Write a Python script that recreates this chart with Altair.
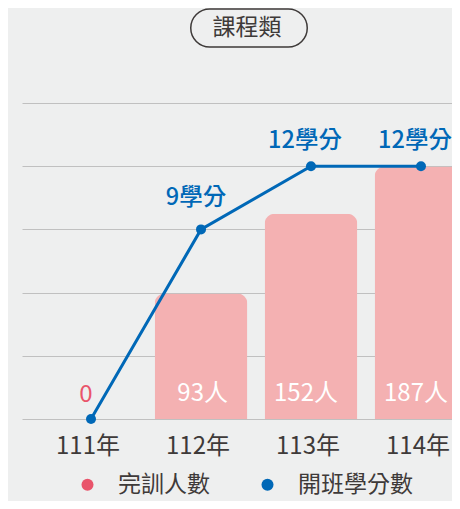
import altair as alt
import pandas as pd

years = ["111年", "112年", "113年", "114年"]
trainees = [0, 93, 152, 187]
trainee_labels = ["0", "93人", "152人", "187人"]
credits = [0, 9, 12, 12]
credit_labels = ["", "9學分", "12學分", "12學分"]
series = ["完訓人數", "開班學分數"]
title_text = ["課程類"]

df = pd.DataFrame({
    "year": years,
    "trainees": trainees,
    "tlabel": trainee_labels,
    "credits": credits,
    "clabel": credit_labels,
})
legend_df = pd.DataFrame({"series": series})
title_df = pd.DataFrame({"t": title_text})

FONT = "Noto Sans CJK TC"
BLUE = "#0068b7"
PINK = "#e9546b"
BAR = "#f4b1b2"
TEXT = "#3e3a39"
GRID = "#c0c0c0"
BG = "#eeefef"

x = alt.X(
    "year:N", sort=years,
    scale=alt.Scale(range=[0, 468], paddingInner=0.157, paddingOuter=0.206),
    axis=alt.Axis(title=None, domain=False, ticks=False, grid=False, labelAngle=0,
                  labelFont=FONT, labelFontSize=24, labelColor=TEXT,
                  labelBaseline="middle", labelPadding=27, labelOffset=-3),
)
bar_scale = alt.Scale(domain=[0, 234], nice=False)
y_bar = alt.Y("trainees:Q", scale=bar_scale, axis=None)
y_line = alt.Y(
    "credits:Q", scale=alt.Scale(domain=[0, 15], nice=False),
    axis=alt.Axis(values=[0, 3, 6, 9, 12, 15], grid=True, gridColor=GRID, gridWidth=1,
                  labels=False, ticks=False, domain=False, title=None),
)

base = alt.Chart(df)

bars = base.mark_bar(color=BAR, cornerRadiusTopLeft=10, cornerRadiusTopRight=10).encode(x=x, y=y_bar)
bar_text = base.transform_filter(alt.datum.trainees > 0).transform_calculate(zero="0").mark_text(
    font=FONT, fontSize=24, color="white", align="right", baseline="middle", dx=27, dy=-25
).encode(x=x, y=alt.Y("zero:Q", scale=bar_scale, axis=None), text="tlabel:N")
zero_text = base.transform_filter(alt.datum.trainees == 0).mark_text(
    font=FONT, fontSize=24, color=PINK, align="center", baseline="middle", dx=-5, dy=-24
).encode(x=x, y=y_bar, text="tlabel:N")
bar_layer = alt.layer(bars, bar_text, zero_text)

line = base.mark_line(color=BLUE, strokeWidth=3).encode(x=x, y=y_line)
pts = base.mark_point(filled=True, size=100, color=BLUE, opacity=1).encode(x=x, y=y_line)
lab9 = base.transform_filter(alt.datum.credits == 9).mark_text(
    font=FONT, fontSize=23.5, fontWeight=500, color=BLUE, align="center", baseline="middle", dx=-5, dy=-31
).encode(x=x, y=y_line, text="clabel:N")
lab12 = base.transform_filter(alt.datum.credits == 12).mark_text(
    font=FONT, fontSize=23.5, fontWeight=500, color=BLUE, align="center", baseline="middle", dx=-6, dy=-25
).encode(x=x, y=y_line, text="clabel:N")
line_layer = alt.layer(line, pts, lab9, lab12)

legend_layer = alt.Chart(legend_df).mark_point(filled=True, size=0, opacity=0).encode(
    color=alt.Color(
        "series:N",
        scale=alt.Scale(domain=series, range=[PINK, BLUE]),
        legend=alt.Legend(orient="none", legendX=54, legendY=370, direction="horizontal",
                          title=None, symbolType="circle", symbolSize=144, symbolOpacity=1,
                          symbolStrokeWidth=0, labelFont=FONT, labelFontSize=23,
                          labelColor=TEXT, labelOffset=19, columnPadding=46, padding=0),
    )
)

pill = alt.Chart(title_df).mark_rect(filled=False, stroke=TEXT, strokeWidth=1.5, cornerRadius=19).encode(
    x=alt.value(168.75), x2=alt.value(285.25), y=alt.value(-94), y2=alt.value(-56)
)
title_mark = alt.Chart(title_df).mark_text(
    font=FONT, fontSize=23, color=TEXT, align="center", baseline="middle"
).encode(x=alt.value(225), y=alt.value(-75), text="t:N")

chart = alt.layer(bar_layer, line_layer, legend_layer, pill, title_mark).resolve_scale(
    y="independent"
).properties(
    width=430, height=316,
    autosize=alt.AutoSizeParams(type="none"),
    padding={"left": 14, "top": 95, "right": 0, "bottom": 82},
    background=BG,
).configure_view(stroke=None)

chart.save("out.html", embed_options={"renderer": "svg", "actions": False})
